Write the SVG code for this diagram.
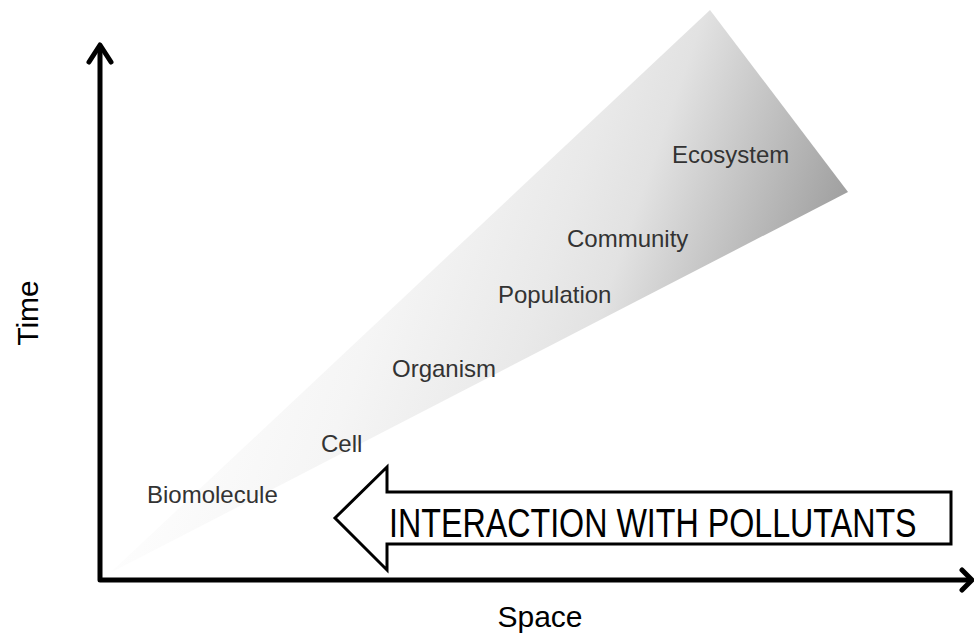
<svg xmlns="http://www.w3.org/2000/svg" width="974" height="635" viewBox="0 0 974 635">
<defs>
<linearGradient id="wedge" gradientUnits="userSpaceOnUse" x1="276.2" y1="96.7" x2="815.1" y2="285.3">
<stop offset="0" stop-color="#fdfdfd"/>
<stop offset="0.29" stop-color="#f5f5f5"/>
<stop offset="0.55" stop-color="#e9e9e9"/>
<stop offset="0.66" stop-color="#e2e2e2"/>
<stop offset="1" stop-color="#a0a0a0"/>
</linearGradient>
<style>
.lbl{font-family:"Liberation Sans",Arial,sans-serif;font-size:24px;fill:#333}
.ax{font-family:"Liberation Sans",Arial,sans-serif;font-size:30px;fill:#000}
.axis{stroke:#000;stroke-width:5;fill:none;stroke-linecap:round;stroke-linejoin:round}
</style>
</defs>
<rect width="974" height="635" fill="#fff"/>
<g id="wedge-shape">
<polygon points="110,573 710,10 848,192" fill="url(#wedge)"/>
</g>
<g id="labels">
<text class="lbl" x="147" y="503">Biomolecule</text>
<text class="lbl" x="321" y="452">Cell</text>
<text class="lbl" x="392" y="377">Organism</text>
<text class="lbl" x="498" y="303">Population</text>
<text class="lbl" x="567" y="247">Community</text>
<text class="lbl" x="672" y="163">Ecosystem</text>
</g>
<g id="pollutant-arrow">
<polygon points="335,518 387,467 387,492 951,492 951,544 387,544 387,570" fill="#fff" stroke="#000" stroke-width="3" stroke-linejoin="miter"/>
<text transform="translate(389,537) scale(0.806,1)" x="0" y="0" font-family="'Liberation Sans',Arial,sans-serif" font-size="40" fill="#000">INTERACTION WITH POLLUTANTS</text>
</g>
<g id="connectors">
<polyline class="axis" points="100,48 100,580 970,580"/>
<polyline class="axis" points="89,62 100,45 111,62"/>
<polyline class="axis" points="962,570 972,580 962,590"/>
</g>
<g id="axis-labels">
<text class="ax" x="540" y="627" text-anchor="middle">Space</text>
<text class="ax" transform="translate(38,313) rotate(-90)" text-anchor="middle">Time</text>
</g>
</svg>
